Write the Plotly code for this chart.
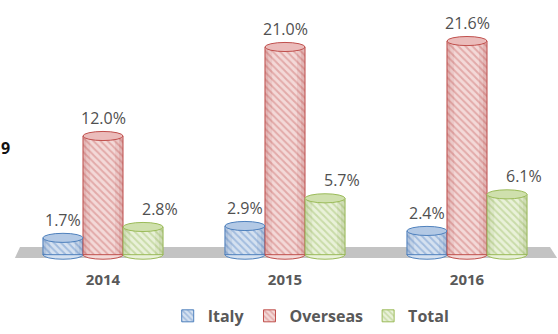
import plotly.graph_objects as go

# Growth rates by year and market
years = ["2014", "2015", "2016"]
italy = [1.7, 2.9, 2.4]
overseas = [12.0, 21.0, 21.6]
total = [2.8, 5.7, 6.1]

series = [
    # name, values, stripe colour, background, outline, cap fill, shade rgb, label x-shift
    ("Italy", italy, "#6f97cc", "#d5e1f0", "#4f81bd", "#b3c9e5", "60,100,160", 0),
    ("Overseas", overseas, "#d27c7a", "#f3d9d8", "#c0504d", "#ebbcbb", "170,60,60", 0),
    ("Total", total, "#a9c677", "#e9f1d9", "#9bbb59", "#cfe0ad", "120,150,60", 17),
]

BARGAP = 0.34
bar_w = (1 - BARGAP) / len(series)
cap_h = 0.46  # half-height of the elliptical caps, in value units

fig = go.Figure()
shapes = []
cap_shapes = []
annotations = []

# grey floor under the cylinders
shapes.append(dict(
    type="path", xref="x", yref="y",
    path="M -0.456 0.78 L 2.456 0.78 L 2.495 -0.33 L -0.484 -0.33 Z",
    fillcolor="#c3c3c3", line=dict(width=0), layer="below",
))

xs = list(range(len(years)))
for i, (name, vals, fg, bg, edge, capfill, shade, dx) in enumerate(series):
    fig.add_trace(go.Bar(
        name=name, x=xs, y=vals,
        marker=dict(
            color=bg,
            line=dict(color=edge, width=1),
            pattern=dict(shape="\\", fgcolor=fg, bgcolor=bg, size=5, solidity=0.4),
        ),
        hoverinfo="skip",
    ))
    off = (i - (len(series) - 1) / 2) * bar_w
    for xi, v in zip(xs, vals):
        cx = xi + off
        left, right = cx - bar_w / 2, cx + bar_w / 2
        # rounded bottom of the cylinder
        shapes.append(dict(
            type="circle", xref="x", yref="y", layer="below",
            x0=left, x1=right, y0=-cap_h, y1=cap_h,
            fillcolor=bg, line=dict(color=edge, width=1),
        ))
        # side shading to give the bar a rounded look
        for a, b, alpha in [(0.0, 0.08, 0.22), (0.08, 0.18, 0.10),
                            (0.80, 0.90, 0.10), (0.90, 1.0, 0.22)]:
            shapes.append(dict(
                type="rect", xref="x", yref="y", layer="above",
                x0=left + a * bar_w, x1=left + b * bar_w, y0=0, y1=v,
                fillcolor=f"rgba({shade},{alpha})", line=dict(width=0),
            ))
        # top cap of the cylinder
        cap_shapes.append(dict(
            type="circle", xref="x", yref="y", layer="above",
            x0=left, x1=right, y0=v - cap_h, y1=v + cap_h,
            fillcolor=capfill, line=dict(color=edge, width=1),
        ))
        annotations.append(dict(
            x=cx, y=v, xref="x", yref="y", text=f"{v:.1f}%",
            showarrow=False, yanchor="middle", yshift=18, xshift=dx,
            font=dict(family="Open Sans", size=16, color="#505050"),
        ))

# stray label at the left edge
annotations.append(dict(
    x=-0.011, y=0.452, xref="paper", yref="paper", text="<b>9</b>",
    showarrow=False, xanchor="center", yanchor="middle",
    font=dict(family="Open Sans", size=16, color="#111111"),
))

fig.update_layout(
    width=558, height=334,
    margin=dict(l=12, r=0, t=10, b=72),
    paper_bgcolor="white", plot_bgcolor="white",
    barmode="group", bargap=BARGAP, bargroupgap=0,
    showlegend=True,
    legend=dict(
        orientation="h", x=0.548, xanchor="center", y=-0.214, yanchor="middle",
        font=dict(family="Open Sans", size=16, color="#595959", weight="bold"),
        itemwidth=30, tracegroupgap=0,
    ),
    xaxis=dict(
        range=[-0.5, 2.5], tickvals=xs, ticktext=years,
        showgrid=False, zeroline=False, showline=False, ticks="",
        ticklabelstandoff=7,
        tickfont=dict(family="Open Sans", size=15, color="#595959", weight="bold"),
    ),
    yaxis=dict(range=[-0.74, 24.74], visible=False),
    shapes=shapes + cap_shapes,
    annotations=annotations,
)

fig.write_html("out.html")
